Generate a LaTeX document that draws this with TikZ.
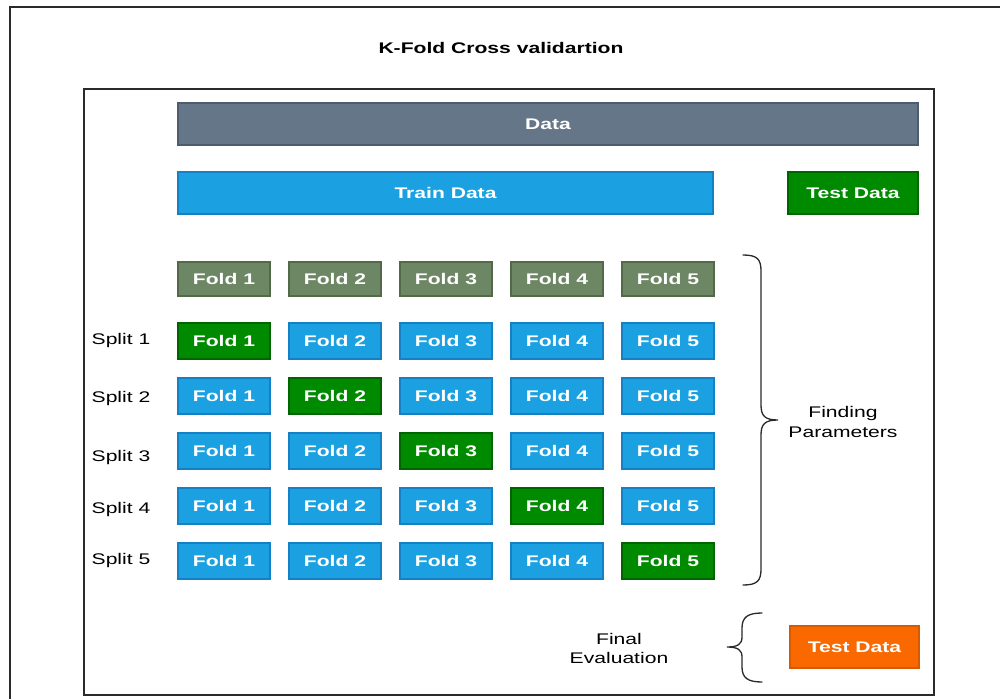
\documentclass[tikz,border=0pt]{standalone}
\usepackage{fontspec}
\setmainfont{Liberation Sans}
\newfontfamily\wideff[FakeStretch=1.37]{Liberation Sans}
\definecolor{slatefill}{HTML}{647687}
\definecolor{slateline}{HTML}{4D5D6D}
\definecolor{bluefill}{HTML}{1BA1E2}
\definecolor{blueline}{HTML}{1580C4}
\definecolor{greenfill}{HTML}{008A00}
\definecolor{greenline}{HTML}{006400}
\definecolor{hdrfill}{HTML}{6D8764}
\definecolor{hdrline}{HTML}{52694A}
\definecolor{orangefill}{HTML}{FA6800}
\definecolor{orangeline}{HTML}{D85A00}
\definecolor{frame}{HTML}{2A2A2A}
\begin{document}
\begin{tikzpicture}[x=1pt,y=-1pt,
  box/.style={draw, line width=1.2pt, inner sep=0pt, text=white,
    font=\wideff\bfseries\fontsize{15.4}{18}\selectfont},
  fold/.style={box, minimum width=92pt, minimum height=36pt},
  slate/.style={fill=slatefill, draw=slateline},
  blu/.style={fill=bluefill, draw=blueline},
  grn/.style={fill=greenfill, draw=greenline},
  hdr/.style={fill=hdrfill, draw=hdrline},
  org/.style={fill=orangefill, draw=orangeline},
  lbl/.style={inner sep=0pt, align=center, text=black,
    font=\wideff\fontsize{15.4}{20}\selectfont},
  brace/.style={draw=frame, line width=1.3pt, line cap=round}]
\useasboundingbox (0,0) rectangle (1000,698);
\clip (0,0) rectangle (1000,698);
\fill[white] (0,0) rectangle (1000,698);
% frames
\draw[line width=2pt, draw=frame] (10,7) rectangle (1015,715);
\draw[line width=2pt, draw=frame] (84,89) rectangle (934,695);
% title
\node[inner sep=0pt, text=black, font=\wideff\bfseries\fontsize{15.4}{18}\selectfont] (title) at (501,48) {K-Fold Cross validartion};
% data bars
\node[box, slate, minimum width=740pt, minimum height=42pt] (data) at (548,124) {Data};
\node[box, blu, minimum width=535pt, minimum height=42pt] (train) at (445.5,193) {Train Data};
\node[box, grn, minimum width=130pt, minimum height=42pt] (test1) at (853,193) {Test Data};
% folds
\foreach \c in {1,...,5} {
  \pgfmathsetmacro\xx{113+111*\c}
  \node[fold, hdr, minimum height=34pt] (h\c) at (\xx,279) {Fold \c};
  \foreach \r/\yy in {1/341,2/396,3/451,4/506,5/561} {
    \ifnum\r=\c\def\st{grn}\else\def\st{blu}\fi
    \node[fold, \st] (f\r\c) at (\xx,\yy) {Fold \c};
  }
}
% split labels
\foreach \r/\yy in {1/341,2/399,3/458,4/510,5/561} {
  \node[lbl] (s\r) at (121,\yy) {Split \r};
}
% right brace
\coordinate (rb1) at (743,255);
\coordinate (rbt) at (778,420);
\coordinate (rb2) at (743,585);
\draw[brace] (rb1) .. controls (757,255) and (761,259) .. (761,271) -- (761,405)
  .. controls (761,416) and (765,420) .. (rbt)
  .. controls (765,420) and (761,424) .. (761,435) -- (761,569)
  .. controls (761,581) and (757,585) .. (rb2);
\node[lbl] (fp) at (843,422) {Finding\\Parameters};
% left brace
\coordinate (lb1) at (762,613);
\coordinate (lbt) at (727,647);
\coordinate (lb2) at (762,682);
\draw[brace] (lb1) .. controls (748,613) and (742,617) .. (742,628) -- (742,637)
  .. controls (742,644) and (738,647) .. (lbt)
  .. controls (738,647) and (742,650) .. (742,657) -- (742,667)
  .. controls (742,678) and (748,682) .. (lb2);
\node[lbl, font=\wideff\fontsize{15.4}{19}\selectfont] (fe) at (619,648) {Final\\Evaluation};
\node[box, org, minimum width=129pt, minimum height=42pt] (test2) at (854.5,647) {Test Data};
\end{tikzpicture}
\end{document}
